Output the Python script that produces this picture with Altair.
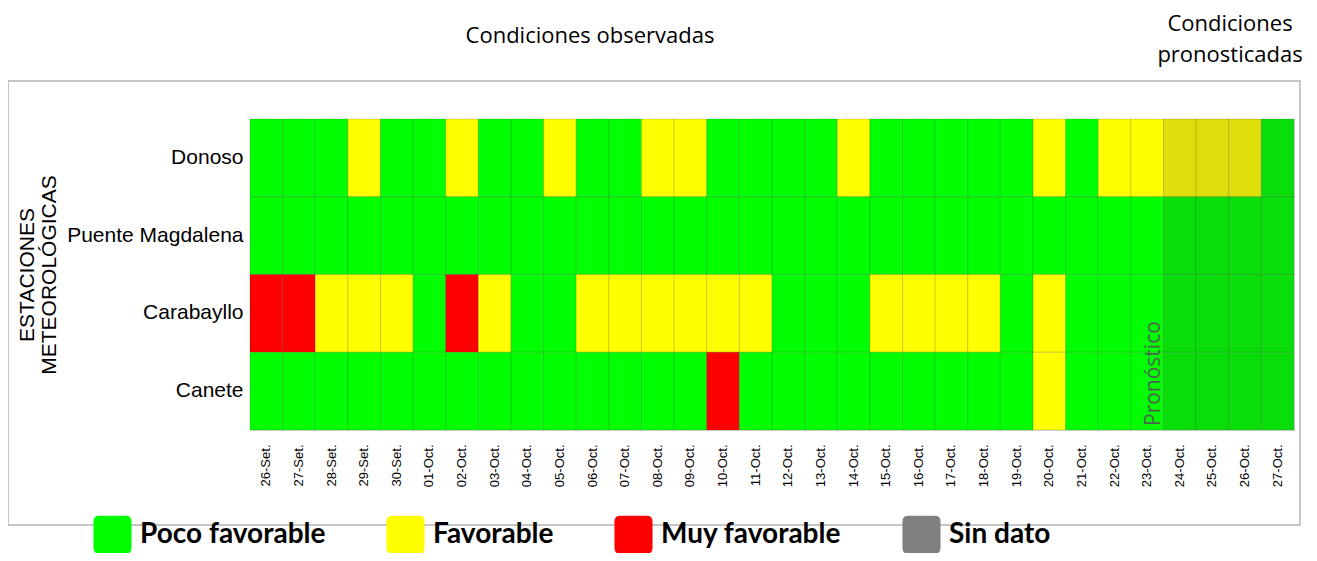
import altair as alt
import pandas as pd

dates = ["26-Set.", "27-Set.", "28-Set.", "29-Set.", "30-Set.",
         "01-Oct.", "02-Oct.", "03-Oct.", "04-Oct.", "05-Oct.", "06-Oct.", "07-Oct.",
         "08-Oct.", "09-Oct.", "10-Oct.", "11-Oct.", "12-Oct.", "13-Oct.", "14-Oct.",
         "15-Oct.", "16-Oct.", "17-Oct.", "18-Oct.", "19-Oct.", "20-Oct.", "21-Oct.",
         "22-Oct.", "23-Oct.", "24-Oct.", "25-Oct.", "26-Oct.", "27-Oct."]
stations = ["Donoso", "Puente Magdalena", "Carabayllo", "Canete"]

# P = Poco favorable, F = Favorable, M = Muy favorable, S = Sin dato
donoso = ["P", "P", "P", "F", "P", "P", "F", "P", "P", "F", "P", "P", "F", "F", "P", "P",
          "P", "P", "F", "P", "P", "P", "P", "P", "F", "P", "F", "F", "F", "F", "F", "P"]
puente = ["P"] * 32
carabayllo = ["M", "M", "F", "F", "F", "P", "M", "F", "P", "P", "F", "F", "F", "F", "F", "F",
              "P", "P", "P", "F", "F", "F", "F", "P", "F", "P", "P", "P", "P", "P", "P", "P"]
canete = ["P", "P", "P", "P", "P", "P", "P", "P", "P", "P", "P", "P", "P", "P", "M", "P",
          "P", "P", "P", "P", "P", "P", "P", "P", "F", "P", "P", "P", "P", "P", "P", "P"]

codes = {"P": "Poco favorable", "F": "Favorable", "M": "Muy favorable", "S": "Sin dato"}
categories = ["Poco favorable", "Favorable", "Muy favorable", "Sin dato"]
colors = ["#00ff00", "#ffff00", "#ff0000", "#808080"]
forecast_days = ["24-Oct.", "25-Oct.", "26-Oct.", "27-Oct."]

rows = []
for st, seq in zip(stations, [donoso, puente, carabayllo, canete]):
    for d, c in zip(dates, seq):
        rows.append({"fecha": d, "estacion": st, "condicion": codes[c]})
df = pd.DataFrame(rows)

W, H = 1044, 311

xenc = alt.X("fecha:N", sort=dates, scale=alt.Scale(domain=dates, paddingInner=0, paddingOuter=0),
             axis=alt.Axis(title=None, labelAngle=-90, labelFont="Liberation Sans", labelFontSize=13,
                           labelColor="#000", ticks=False, domain=False, labelPadding=14))
yenc = alt.Y("estacion:N", sort=stations, scale=alt.Scale(domain=stations, paddingInner=0, paddingOuter=0),
             axis=alt.Axis(title=["ESTACIONES", "METEOROLÓGICAS"], labelFont="Liberation Sans",
                           labelFontSize=21, labelColor="#000", ticks=False, domain=False,
                           labelPadding=7, titleFont="Liberation Sans", titleFontSize=21,
                           titleFontWeight="normal", titleColor="#000", titlePadding=7,
                           titleLineHeight=22))

rounded = ("M -1,-0.7 Q -1,-1 -0.7,-1 L 0.7,-1 Q 1,-1 1,-0.7 L 1,0.7 Q 1,1 0.7,1 "
           "L -0.7,1 Q -1,1 -1,0.7 Z")

cells = alt.Chart(df).mark_rect(stroke="#000", strokeWidth=0.7, strokeOpacity=0.22).encode(
    x=xenc, y=yenc,
    color=alt.Color("condicion:N", scale=alt.Scale(domain=categories, range=colors),
                    legend=alt.Legend(title=None, orient="none", legendX=-157, legendY=396,
                                      direction="horizontal", columns=4, symbolType=rounded,
                                      symbolSize=1450, symbolStrokeWidth=0, symbolOpacity=1,
                                      labelFont="Lato", labelFontSize=28, labelFontWeight="bold",
                                      labelColor="#000", labelOffset=8, columnPadding=60,
                                      padding=0, labelLimit=400))
)

fc = pd.DataFrame({"fecha": forecast_days})
overlay = alt.Chart(fc).mark_rect(color="#3a3a3a", opacity=0.17).encode(
    x=alt.X("fecha:N", sort=dates, scale=alt.Scale(domain=dates))
)

pron = alt.Chart(pd.DataFrame({"fecha": ["24-Oct."], "t": ["Pronóstico"]})).mark_text(
    angle=270, align="left", baseline="bottom", font="Open Sans", fontSize=21,
    color="#555555", opacity=0.9
).encode(
    x=alt.X("fecha:N", sort=dates, bandPosition=0, scale=alt.Scale(domain=dates)),
    y=alt.value(H - 4), text="t:N"
)

frame = alt.Chart(pd.DataFrame({"a": [0]})).mark_rect(
    fill=None, stroke="#b4b4b4", strokeWidth=1.5
).encode(x=alt.value(-242), x2=alt.value(1050), y=alt.value(-38), y2=alt.value(406))

titles = pd.DataFrame({
    "t": ["Condiciones observadas", "Condiciones", "pronosticadas"],
    "px": [340, 980, 980],
    "py": [-83, -95, -64],
})
title_marks = alt.Chart(titles).mark_text(font="Open Sans", fontSize=22, color="#000",
                                          align="center", baseline="middle").encode(
    x=alt.X("px:Q", scale=None), y=alt.Y("py:Q", scale=None), text="t:N"
)

chart = alt.layer(frame, cells, overlay, pron, title_marks).properties(
    width=W, height=H,
    autosize=alt.AutoSizeParams(type="none"),
    padding={"left": 242, "top": 111, "right": 15, "bottom": 123},
).configure_view(stroke=None).configure(background="white")

chart.save("out.html", embed_options={"renderer": "svg", "actions": False})
